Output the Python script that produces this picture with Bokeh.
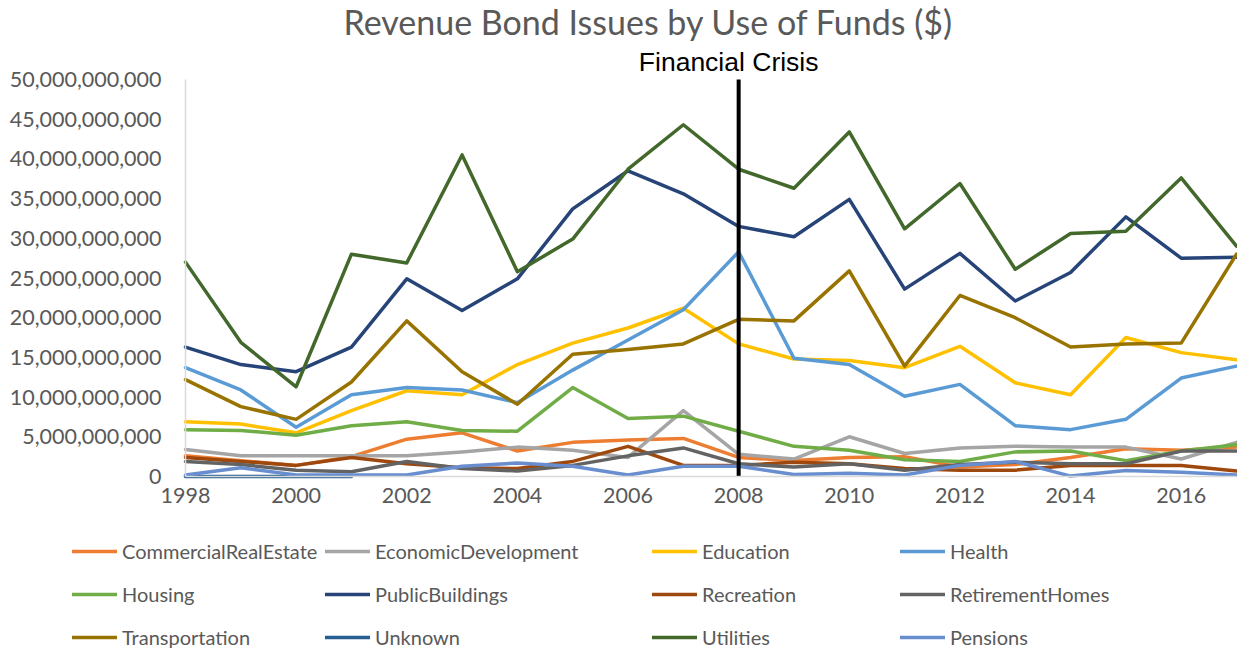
from bokeh.plotting import figure
from bokeh.models import (Range1d, NumeralTickFormatter, FixedTicker, Label,
                          Legend, LegendItem, ColumnDataSource)
from bokeh.embed import file_html
from bokeh.resources import INLINE

nan = float("nan")

years = [1998, 1999, 2000, 2001, 2002, 2003, 2004, 2005, 2006, 2007,
         2008, 2009, 2010, 2011, 2012, 2013, 2014, 2015, 2016, 2017]

# values in billions of dollars
commercial_real_estate = [2.6, 2.0, 1.4, 2.5, 4.7, 5.5, 3.2, 4.3, 4.6, 4.8, 2.4, 2.0, 2.4, 2.5, 1.2, 1.5, 2.4, 3.5, 3.3, 3.7]
economic_development = [3.4, 2.6, 2.6, 2.6, 2.6, 3.1, 3.7, 3.3, 2.4, 8.3, 2.8, 2.2, 5.0, 2.9, 3.6, 3.8, 3.7, 3.7, 2.2, 4.3]
education = [6.9, 6.6, 5.5, 8.3, 10.8, 10.3, 14.1, 16.8, 18.7, 21.2, 16.7, 14.8, 14.6, 13.7, 16.4, 11.8, 10.3, 17.5, 15.6, 14.7]
health = [13.7, 10.9, 6.2, 10.3, 11.2, 10.9, 9.3, 13.4, 17.2, 21.0, 28.3, 14.9, 14.1, 10.1, 11.6, 6.4, 5.9, 7.2, 12.4, 13.9]
housing = [5.9, 5.8, 5.2, 6.4, 6.9, 5.8, 5.7, 11.2, 7.3, 7.6, 5.7, 3.8, 3.3, 2.1, 1.9, 3.1, 3.2, 2.0, 3.2, 4.0]
public_buildings = [16.3, 14.1, 13.2, 16.3, 24.9, 20.9, 24.9, 33.7, 38.5, 35.6, 31.5, 30.2, 34.9, 23.6, 28.1, 22.1, 25.7, 32.7, 27.5, 27.6]
recreation = [2.4, 1.9, 1.4, 2.4, 1.6, 1.1, 1.0, 1.9, 3.8, 1.4, 1.4, 1.8, 1.6, 1.0, 0.8, 0.8, 1.4, 1.4, 1.4, 0.7]
retirement_homes = [1.9, 1.5, 0.8, 0.6, 1.9, 1.0, 0.7, 1.4, 2.6, 3.6, 1.6, 1.2, 1.6, 0.8, 1.5, 1.8, 1.6, 1.6, 3.2, 3.2]
transportation = [12.2, 8.8, 7.2, 11.9, 19.6, 13.2, 9.1, 15.4, 16.0, 16.7, 19.8, 19.6, 25.9, 13.9, 22.8, 20.0, 16.3, 16.7, 16.8, 28.0]
unknown = [0.0, 0.0, 0.0, 0.0, nan, nan, nan, nan, nan, nan, nan, nan, nan, nan, nan, nan, nan, nan, nan, nan]
utilities = [27.0, 16.9, 11.3, 28.0, 26.9, 40.5, 25.8, 29.9, 38.7, 44.3, 38.7, 36.3, 43.4, 31.2, 36.9, 26.1, 30.6, 30.9, 37.6, 29.0]
pensions = [0.2, 1.1, 0.2, 0.2, 0.2, 1.3, 1.7, 1.3, 0.2, 1.3, 1.3, 0.25, 0.4, 0.2, 1.4, 1.9, 0.05, 0.75, 0.55, 0.2]

series_names = ["CommercialRealEstate", "EconomicDevelopment", "Education", "Health",
                "Housing", "PublicBuildings", "Recreation", "RetirementHomes",
                "Transportation", "Unknown", "Utilities", "Pensions"]
series_values = [commercial_real_estate, economic_development, education, health,
                 housing, public_buildings, recreation, retirement_homes,
                 transportation, unknown, utilities, pensions]
series_colors = ["#ED7D31", "#A5A5A5", "#FFC000", "#5B9BD5", "#70AD47", "#264478",
                 "#9E480E", "#636363", "#997300", "#255E91", "#43682B", "#698ED0"]

x_ticks = [1998, 2000, 2002, 2004, 2006, 2008, 2010, 2012, 2014, 2016]
y_ticks = [0, 5e9, 10e9, 15e9, 20e9, 25e9, 30e9, 35e9, 40e9, 45e9, 50e9]
x_first, x_last = 1998, 2017
y_min, y_max = 0, 50e9
crisis_year = 2008
title_text = "Revenue Bond Issues by Use of Funds ($)"
crisis_text = "Financial Crisis"
scale = 1e9

TXT = "#595959"
FONT = "Lato"

# layout (pixels): the frame fills the whole canvas; axes sit at fixed data locations
W, H = 1237, 649
PX_L, PX_R = 185, 1236      # pixel columns of first / last year
PX_TOP, PX_BOT = 79, 476    # pixel rows of y_max / y_min
kx = (PX_R - PX_L) / (x_last - x_first)
ky = (PX_BOT - PX_TOP) / (y_max - y_min)
x_range = Range1d(x_first - PX_L / kx, x_first + (W - PX_L) / kx)
y_range = Range1d(y_min - (H - PX_BOT) / ky, y_min + PX_BOT / ky)

p = figure(width=W, height=H, output_backend="svg", toolbar_location=None,
           x_range=x_range, y_range=y_range, title=None,
           min_border=0, min_border_left=0, min_border_right=0,
           min_border_top=0, min_border_bottom=0)
p.outline_line_color = None
p.xgrid.visible = False
p.ygrid.visible = False

p.yaxis.ticker = FixedTicker(ticks=y_ticks)
p.yaxis.formatter = NumeralTickFormatter(format="0,0")
p.xaxis.ticker = FixedTicker(ticks=x_ticks)
p.xaxis.fixed_location = y_min
p.yaxis.fixed_location = x_first
p.xaxis.bounds = (x_first, x_last)
p.yaxis.bounds = (y_min, y_max)
for ax in (p.xaxis, p.yaxis):
    ax.major_label_text_font = FONT
    ax.major_label_text_font_size = "21.5px"
    ax.major_label_text_color = TXT
    ax.axis_line_color = "#D9D9D9"
    ax.axis_line_width = 1.5
    ax.major_tick_line_color = None
    ax.minor_tick_line_color = None
    ax.major_tick_out = 0
    ax.major_tick_in = 0
    ax.minor_tick_out = 0
    ax.minor_tick_in = 0
p.yaxis.major_label_standoff = 24
p.xaxis.major_label_standoff = 11

renderers = {}
for name, vals, col in zip(series_names, series_values, series_colors):
    src = ColumnDataSource(dict(x=years, y=[v * scale for v in vals]))
    r = p.line("x", "y", source=src, line_color=col, line_width=3.5,
               line_join="round", line_cap="round")
    renderers[name] = r

# vertical marker at the crisis year spanning the value axis
p.segment(x0=[crisis_year], y0=[y_min], x1=[crisis_year], y1=[y_max],
          line_color="black", line_width=4)

p.add_layout(Label(x=crisis_year, y=H - 61, y_units="screen", x_offset=-10,
                   text=crisis_text, text_align="center", text_baseline="alphabetic",
                   text_font="Liberation Sans", text_font_size="26.5px",
                   text_color="black"))

p.add_layout(Label(x=648, y=H - 21, x_units="screen", y_units="screen", text=title_text,
                   text_align="center", text_baseline="alphabetic",
                   text_font=FONT, text_font_size="34px", text_color=TXT))

columns = [
    ["CommercialRealEstate", "Housing", "Transportation"],
    ["EconomicDevelopment", "PublicBuildings", "Unknown"],
    ["Education", "Recreation", "Utilities"],
    ["Health", "RetirementHomes", "Pensions"],
]
col_x = [72, 325, 652, 900]
for cx, names in zip(col_x, columns):
    leg = Legend(items=[LegendItem(label=n, renderers=[renderers[n]]) for n in names],
                 location=(cx, 0), orientation="vertical",
                 glyph_width=45, glyph_height=24, label_height=24,
                 label_standoff=5, spacing=19, padding=0, margin=0,
                 border_line_alpha=0, background_fill_alpha=0,
                 label_text_font=FONT, label_text_font_size="20px",
                 label_text_color=TXT)
    p.add_layout(leg, "center")

open("out.html", "w").write(file_html(p, INLINE))
